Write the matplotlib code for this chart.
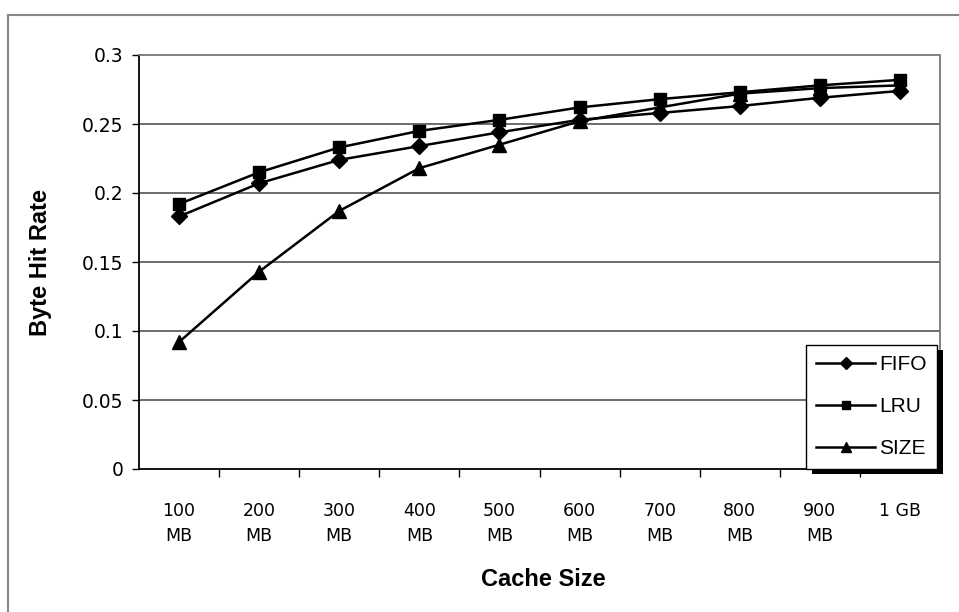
import matplotlib
matplotlib.use('Agg')
import matplotlib.pyplot as plt
from matplotlib.lines import Line2D
from matplotlib.patches import Rectangle

# byte hit rate per cache size for each replacement policy
cache_sizes = ['100\nMB', '200\nMB', '300\nMB', '400\nMB', '500\nMB',
               '600\nMB', '700\nMB', '800\nMB', '900\nMB', '1 GB']
fifo = [0.183, 0.207, 0.224, 0.234, 0.244, 0.253, 0.258, 0.263, 0.269, 0.274]
lru = [0.192, 0.215, 0.233, 0.245, 0.253, 0.262, 0.268, 0.273, 0.278, 0.282]
size = [0.092, 0.143, 0.187, 0.218, 0.235, 0.252, 0.262, 0.272, 0.276, 0.278]
y_ticks = [0, 0.05, 0.1, 0.15, 0.2, 0.25, 0.3]
y_ticklabels = ['0', '0.05', '0.1', '0.15', '0.2', '0.25', '0.3']

W, H = 959, 612
fig = plt.figure(figsize=(W / 100, H / 100), dpi=100)
ax = fig.add_axes([139 / W, 1 - 469 / H, (940 - 139) / W, (469 - 55) / H])

x = list(range(len(cache_sizes)))
ax.plot(x, fifo, color='black', lw=1.8, marker='D', ms=8.5, label='FIFO', zorder=3)
ax.plot(x, lru, color='black', lw=1.8, marker='s', ms=8.5, label='LRU', zorder=3)
ax.plot(x, size, color='black', lw=1.8, marker='^', ms=9.5, label='SIZE', zorder=3)

ax.set_xlim(-0.5, len(cache_sizes) - 0.5)
ax.set_ylim(0, 0.3)

# horizontal gridlines
for t in y_ticks[1:-1]:
    ax.axhline(t, color='#444444', lw=1.1, zorder=1)

ax.set_yticks(y_ticks)
ax.set_yticklabels(y_ticklabels, fontsize=13.5, family='DejaVu Sans')
ax.tick_params(axis='y', direction='out', length=5, width=1, pad=6)

# category labels in the middle, tick marks between categories
ax.set_xticks(x)
ax.set_xticklabels(cache_sizes, fontsize=12.5, family='DejaVu Sans',
                   va='top', linespacing=1.5)
ax.tick_params(axis='x', which='major', length=0, pad=24)
ax.set_xticks([i - 0.5 for i in range(1, len(cache_sizes))], minor=True)
ax.tick_params(axis='x', which='minor', direction='out', length=6, width=1)

ax.spines['left'].set_color('black')
ax.spines['left'].set_linewidth(1.3)
ax.spines['bottom'].set_color('black')
ax.spines['bottom'].set_linewidth(1.3)
for s in ['top', 'right']:
    ax.spines[s].set_color('#777777')
    ax.spines[s].set_linestyle((0, (2, 1)))
    ax.spines[s].set_linewidth(1.3)

ax.set_xlabel('Cache Size', fontsize=17, fontweight='bold',
              family='Liberation Sans')
ax.xaxis.set_label_coords(0.505, -0.24)
ax.set_ylabel('Byte Hit Rate', fontsize=17, fontweight='bold',
              family='Liberation Sans')
ax.yaxis.set_label_coords(-0.108, 0.5)

handles, labels = ax.get_legend_handles_labels()
leg = fig.legend(handles, labels, loc='upper left',
                 bbox_to_anchor=(806 / W, 1 - 345 / H),
                 bbox_transform=fig.transFigure, borderaxespad=0,
                 prop={'family': 'Liberation Sans', 'size': 15},
                 handlelength=2.8, handletextpad=0.2, labelspacing=1.1,
                 borderpad=0.5, markerscale=0.7, fancybox=False,
                 framealpha=1, edgecolor='black')
leg.get_frame().set_linewidth(1.0)
leg.set_zorder(10)

# drop shadow of the legend box
fig.canvas.draw()
bb = leg.get_window_extent().transformed(fig.transFigure.inverted())
off_x, off_y = 6 / W, 5 / H
fig.patches.append(Rectangle((bb.x0 + off_x, bb.y0 - off_y), bb.width, bb.height,
                             transform=fig.transFigure, facecolor='black',
                             edgecolor='none', zorder=5))

# outer frame of the chart area
fig.add_artist(Line2D([8 / W, 8 / W], [0, 1 - 15 / H], transform=fig.transFigure,
                      color='#888888', lw=1.5))
fig.add_artist(Line2D([8 / W, 1], [1 - 15 / H, 1 - 15 / H], transform=fig.transFigure,
                      color='#888888', lw=1.5))

fig.savefig('out.png', dpi=100)
